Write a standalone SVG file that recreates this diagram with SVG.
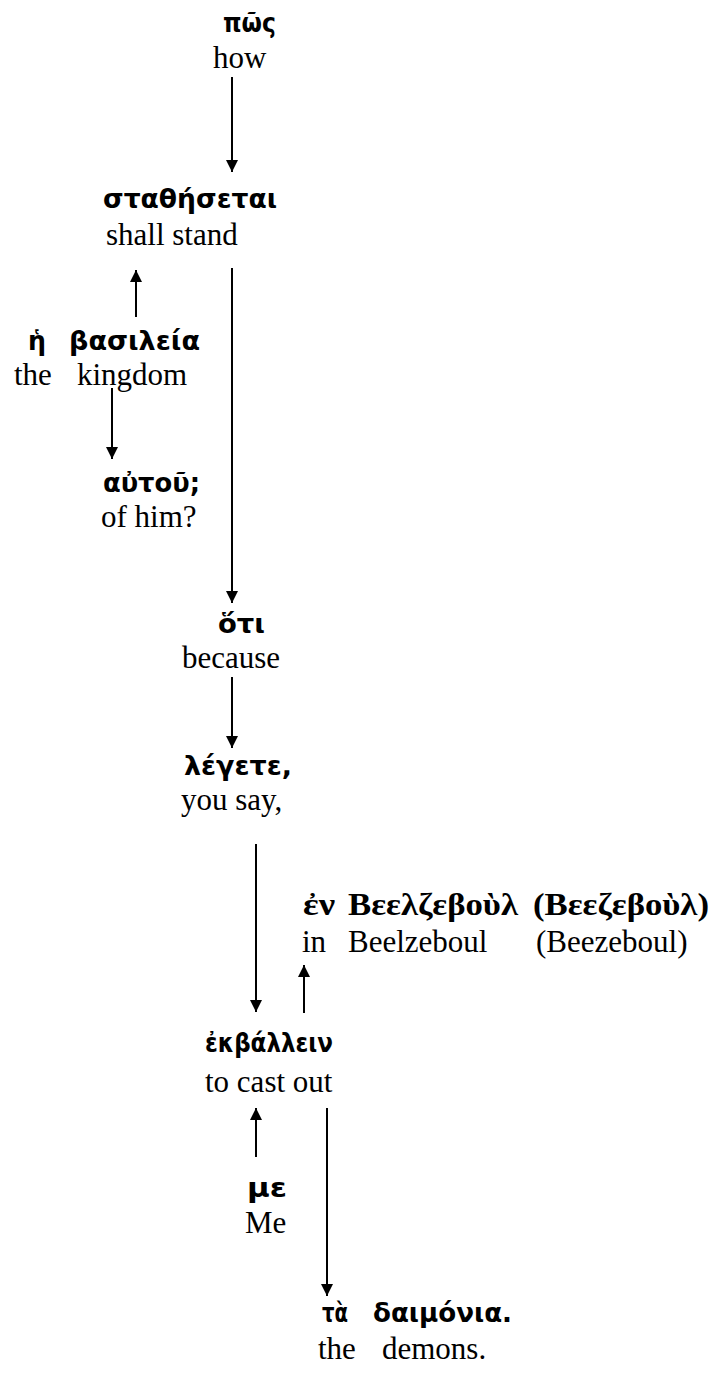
<svg xmlns="http://www.w3.org/2000/svg" width="719" height="1380" viewBox="0 0 719 1380">
<style>
.gr{font-family:"DejaVu Sans","Noto Sans",sans-serif;font-weight:bold;font-size:27px;fill:#000}
.gs{font-family:"Liberation Serif","DejaVu Serif",serif;font-weight:bold;font-size:31px;fill:#000}
.en{font-family:"Liberation Serif","Times New Roman",serif;font-size:31px;fill:#000}
.c line{stroke:#000;stroke-width:2;fill:none}
</style>
<defs>
<marker id="ah" markerUnits="userSpaceOnUse" markerWidth="12" markerHeight="12" refX="12" refY="6" orient="auto">
<path d="M0,0 L12,6 L0,12 z" fill="#000"/>
</marker>
</defs>
<rect width="719" height="1380" fill="#fff"/>
<g id="connectors" class="c">
<line x1="232" y1="77" x2="232" y2="172" marker-end="url(#ah)"/>
<line x1="136" y1="317" x2="136" y2="270" marker-end="url(#ah)"/>
<line x1="232" y1="268" x2="232" y2="603" marker-end="url(#ah)"/>
<line x1="112" y1="388" x2="112" y2="459" marker-end="url(#ah)"/>
<line x1="232" y1="677" x2="232" y2="748" marker-end="url(#ah)"/>
<line x1="256" y1="844" x2="256" y2="1012" marker-end="url(#ah)"/>
<line x1="304" y1="1013" x2="304" y2="965" marker-end="url(#ah)"/>
<line x1="256" y1="1157" x2="256" y2="1108" marker-end="url(#ah)"/>
<line x1="327" y1="1108" x2="327" y2="1296" marker-end="url(#ah)"/>
</g>
<g id="pos">
<text class="gr" x="223" y="32" textLength="53" lengthAdjust="spacingAndGlyphs">πῶς</text>
<text class="en" x="213" y="68">how</text>
</g>
<g id="stathesetai">
<text class="gr" x="103" y="208" textLength="174" lengthAdjust="spacingAndGlyphs">σταθήσεται</text>
<text class="en" x="106" y="245">shall stand</text>
</g>
<g id="he-basileia">
<text class="gr" x="28" y="350" textLength="18" lengthAdjust="spacingAndGlyphs">ἡ</text>
<text class="gr" x="69" y="350" textLength="131" lengthAdjust="spacingAndGlyphs">βασιλεία</text>
<text class="en" x="14" y="385">the</text>
<text class="en" x="77" y="385">kingdom</text>
</g>
<g id="autou">
<text class="gr" x="103" y="492" textLength="97" lengthAdjust="spacingAndGlyphs">αὐτοῦ;</text>
<text class="en" x="101" y="527">of him?</text>
</g>
<g id="hoti">
<text class="gr" x="218" y="633" textLength="47" lengthAdjust="spacingAndGlyphs">ὅτι</text>
<text class="en" x="182" y="668">because</text>
</g>
<g id="legete">
<text class="gr" x="184" y="775" textLength="108" lengthAdjust="spacingAndGlyphs">λέγετε,</text>
<text class="en" x="181" y="810">you say,</text>
</g>
<g id="en-beelzeboul">
<text class="gs" x="303" y="915" textLength="32" lengthAdjust="spacingAndGlyphs">ἐν</text>
<text class="gs" x="348" y="915" textLength="170" lengthAdjust="spacingAndGlyphs">Βεελζεβοὺλ</text>
<text class="gs" x="533" y="915" textLength="176" lengthAdjust="spacingAndGlyphs">(Βεεζεβοὺλ)</text>
<text class="en" x="302" y="952">in</text>
<text class="en" x="348" y="952">Beelzeboul</text>
<text class="en" x="536" y="952">(Beezeboul)</text>
</g>
<g id="ekballein">
<text class="gr" x="205" y="1052" textLength="128" lengthAdjust="spacingAndGlyphs">ἐκβάλλειν</text>
<text class="en" x="205" y="1092">to cast out</text>
</g>
<g id="me">
<text class="gr" x="247" y="1197" textLength="40" lengthAdjust="spacingAndGlyphs">με</text>
<text class="en" x="245" y="1233">Me</text>
</g>
<g id="ta-daimonia">
<text class="gr" x="322" y="1322" textLength="26" lengthAdjust="spacingAndGlyphs">τὰ</text>
<text class="gr" x="373" y="1322" textLength="139" lengthAdjust="spacingAndGlyphs">δαιμόνια.</text>
<text class="en" x="318" y="1359">the</text>
<text class="en" x="382" y="1359">demons.</text>
</g>
</svg>
